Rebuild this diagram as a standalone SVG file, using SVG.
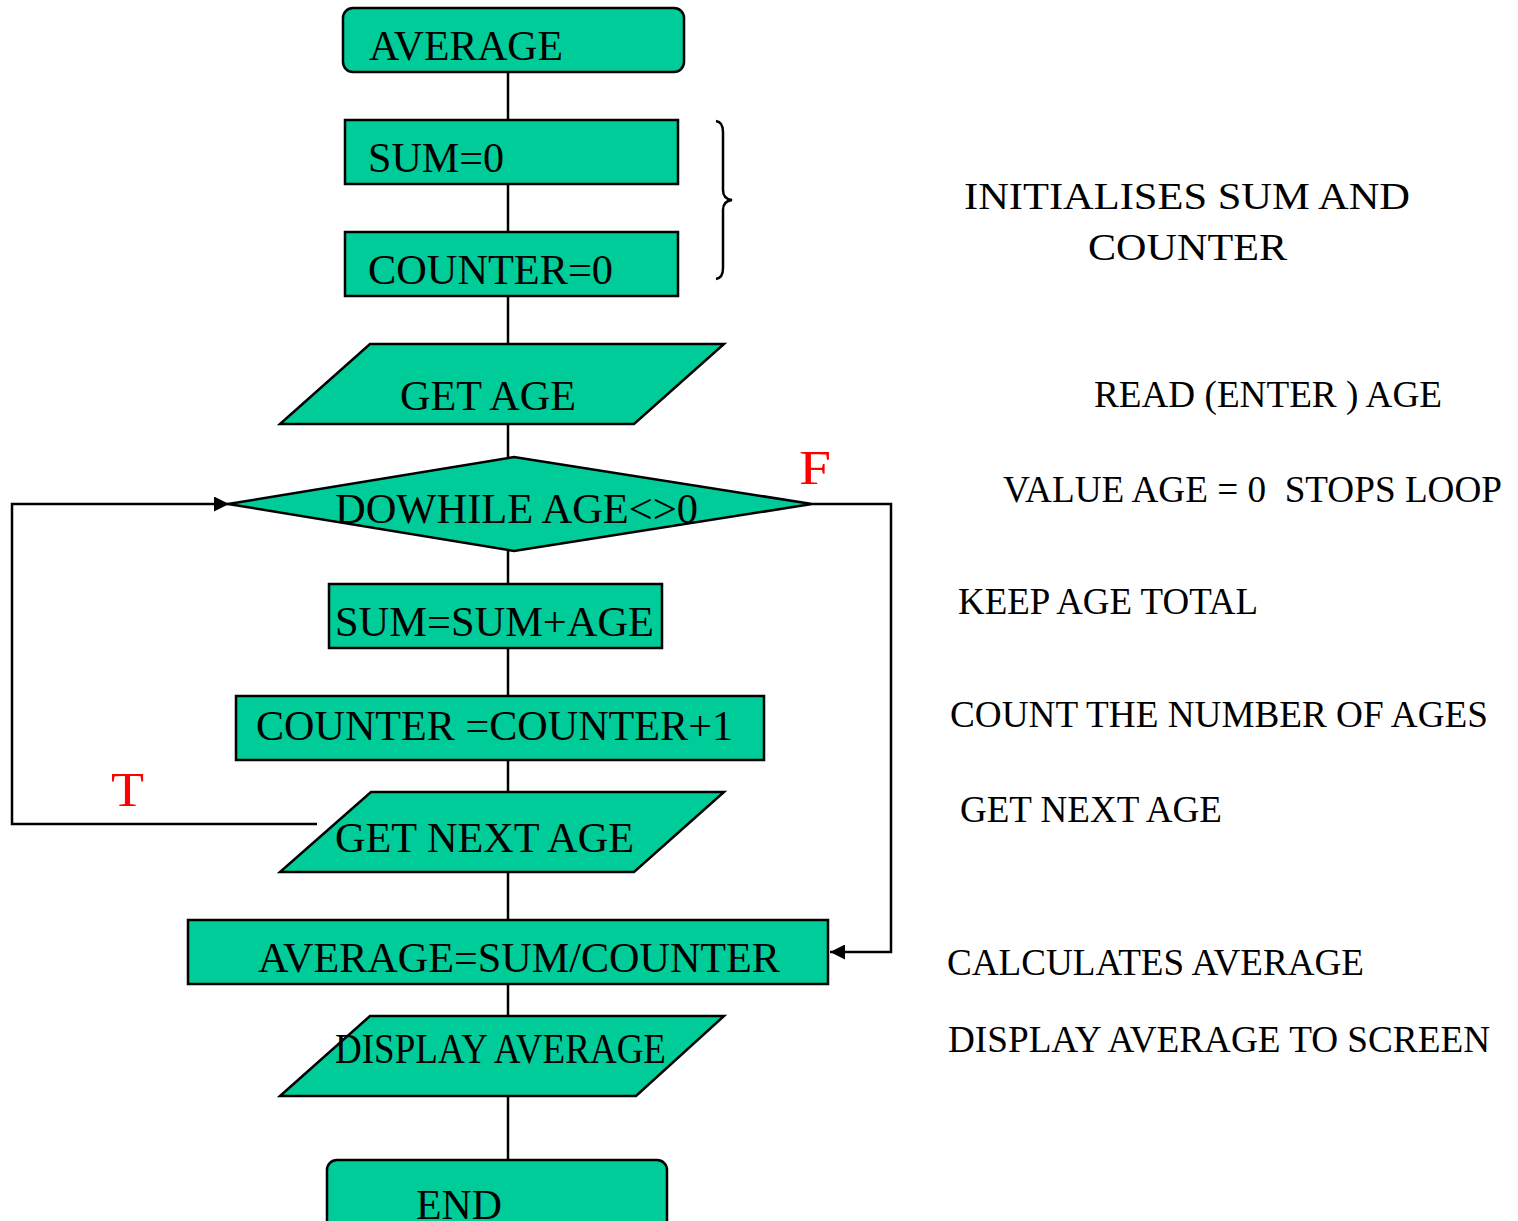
<svg xmlns="http://www.w3.org/2000/svg" width="1518" height="1221" viewBox="0 0 1518 1221">
  <style>
    .node { fill: #00CC99; stroke: #000; stroke-width: 2.5; }
    .lbl { font-family: "Liberation Serif", "Times New Roman", serif; font-size: 42px; fill: #000; }
    .note { font-family: "Liberation Serif", "Times New Roman", serif; font-size: 37px; fill: #000; white-space: pre; }
    .tf { font-family: "Liberation Serif", "Times New Roman", serif; font-size: 48px; fill: #FF0000; }
    .wire { fill: none; stroke: #000; stroke-width: 2.5; }
  </style>
  <defs>
    <marker id="arrow" viewBox="0 0 10 10" refX="10" refY="5" markerWidth="6.5" markerHeight="6" orient="auto" markerUnits="strokeWidth">
      <path d="M0,0 L10,5 L0,10 Z" fill="#000"/>
    </marker>
  </defs>
  <rect width="1518" height="1221" fill="#fff"/>

  <g id="connectors">
    <line class="wire" x1="508" y1="72" x2="508" y2="120"/>
    <line class="wire" x1="508" y1="184" x2="508" y2="232"/>
    <line class="wire" x1="508" y1="296" x2="508" y2="344"/>
    <line class="wire" x1="508" y1="424" x2="508" y2="457"/>
    <line class="wire" x1="508" y1="551" x2="508" y2="584"/>
    <line class="wire" x1="508" y1="648" x2="508" y2="696"/>
    <line class="wire" x1="508" y1="760" x2="508" y2="792"/>
    <line class="wire" x1="508" y1="872" x2="508" y2="920"/>
    <line class="wire" x1="508" y1="984" x2="508" y2="1016"/>
    <line class="wire" x1="508" y1="1096" x2="508" y2="1160"/>
    <!-- loop back (true branch) -->
    <polyline class="wire" points="317,824 12,824 12,504 229,504" marker-end="url(#arrow)"/>
    <!-- exit (false branch) -->
    <polyline class="wire" points="812,504 891,504 891,952 830,952" marker-end="url(#arrow)"/>
  </g>

  <g id="n-start">
    <rect class="node" x="343" y="8" width="341" height="64" rx="10"/>
    <text class="lbl" x="369" y="60" textLength="194" lengthAdjust="spacingAndGlyphs">AVERAGE</text>
  </g>
  <g id="n-sum0">
    <rect class="node" x="345" y="120" width="333" height="64"/>
    <text class="lbl" x="368" y="172" textLength="136" lengthAdjust="spacingAndGlyphs">SUM=0</text>
  </g>
  <g id="n-counter0">
    <rect class="node" x="345" y="232" width="333" height="64"/>
    <text class="lbl" x="368" y="284" textLength="245" lengthAdjust="spacingAndGlyphs">COUNTER=0</text>
  </g>
  <g id="n-getage">
    <polygon class="node" points="370,344 724,344 634,424 280,424"/>
    <text class="lbl" x="400" y="410" textLength="176" lengthAdjust="spacingAndGlyphs">GET AGE</text>
  </g>
  <g id="n-dowhile">
    <polygon class="node" points="228,504 514,457 812,504 514,551"/>
    <text class="lbl" x="335" y="523" textLength="363" lengthAdjust="spacingAndGlyphs">DOWHILE AGE&lt;&gt;0</text>
  </g>
  <g id="n-sumadd">
    <rect class="node" x="329" y="584" width="333" height="64"/>
    <text class="lbl" x="335" y="636" textLength="319" lengthAdjust="spacingAndGlyphs">SUM=SUM+AGE</text>
  </g>
  <g id="n-counteradd">
    <rect class="node" x="236" y="696" width="528" height="64"/>
    <text class="lbl" x="256" y="740" textLength="477" lengthAdjust="spacingAndGlyphs">COUNTER =COUNTER+1</text>
  </g>
  <g id="n-getnext">
    <polygon class="node" points="371,792 724,792 634,872 280,872"/>
    <text class="lbl" x="335" y="852" textLength="299" lengthAdjust="spacingAndGlyphs">GET NEXT AGE</text>
  </g>
  <g id="n-calc">
    <rect class="node" x="188" y="920" width="640" height="64"/>
    <text class="lbl" x="258" y="972" textLength="522" lengthAdjust="spacingAndGlyphs">AVERAGE=SUM/COUNTER</text>
  </g>
  <g id="n-display">
    <polygon class="node" points="370,1016 724,1016 636,1096 280,1096"/>
    <text class="lbl" x="335" y="1063" textLength="331" lengthAdjust="spacingAndGlyphs">DISPLAY AVERAGE</text>
  </g>
  <g id="n-end">
    <rect class="node" x="327" y="1160" width="340" height="80" rx="10"/>
    <text class="lbl" x="416" y="1219" textLength="86" lengthAdjust="spacingAndGlyphs">END</text>
  </g>

  <!-- branch labels -->
  <text class="tf" x="799" y="484" textLength="32" lengthAdjust="spacingAndGlyphs">F</text>
  <text class="tf" x="111" y="806" textLength="33" lengthAdjust="spacingAndGlyphs">T</text>

  <!-- brace grouping the two initialisations -->
  <path class="wire" d="M716,121 Q723,122 723,132 L723,190 Q723,199 732,200 Q723,201 723,210 L723,268 Q723,278 716,279"/>

  <g id="notes">
    <text class="note" x="964" y="209" textLength="446" lengthAdjust="spacingAndGlyphs">INITIALISES SUM AND</text>
    <text class="note" x="1088" y="260" textLength="199" lengthAdjust="spacingAndGlyphs">COUNTER</text>
    <text class="note" x="1094" y="407" textLength="348" lengthAdjust="spacingAndGlyphs">READ (ENTER ) AGE</text>
    <text class="note" x="1003" y="502" textLength="499" lengthAdjust="spacingAndGlyphs">VALUE AGE = 0  STOPS LOOP</text>
    <text class="note" x="958" y="614" textLength="300" lengthAdjust="spacingAndGlyphs">KEEP AGE TOTAL</text>
    <text class="note" x="950" y="727" textLength="538" lengthAdjust="spacingAndGlyphs">COUNT THE NUMBER OF AGES</text>
    <text class="note" x="960" y="822" textLength="262" lengthAdjust="spacingAndGlyphs">GET NEXT AGE</text>
    <text class="note" x="947" y="975" textLength="417" lengthAdjust="spacingAndGlyphs">CALCULATES AVERAGE</text>
    <text class="note" x="948" y="1052" textLength="542" lengthAdjust="spacingAndGlyphs">DISPLAY AVERAGE TO SCREEN</text>
  </g>
</svg>
